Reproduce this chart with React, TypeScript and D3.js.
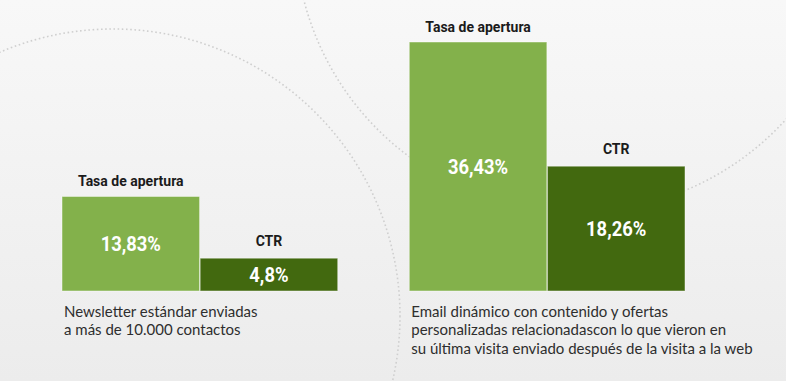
import React from "react";
import * as d3 from "d3";

const groups = ["standard", "dynamic"];
const metrics = ["Tasa de apertura", "CTR"];
const openRates = [13.83, 36.43];
const ctrRates = [4.8, 18.26];
const valueLabels = [["13,83%", "4,8%"], ["36,43%", "18,26%"]];
const descriptions = [
  ["Newsletter estándar enviadas", "a más de 10.000 contactos"],
  [
    "Email dinámico con contenido y ofertas",
    "personalizadas relacionadascon lo que vieron en",
    "su última visita enviado después de la visita a la web",
  ],
];

const W = 786;
const H = 381;
const baseY = 291;
const topY = 42;

export default function App() {
  const series = groups.map((g, i) => [openRates[i], ctrRates[i]]);
  const maxV = d3.max(series.flat()) as number;
  const y = d3.scaleLinear().domain([0, maxV]).range([baseY, topY]);
  const xG = d3.scaleBand<string>().domain(groups).range([62, 685]).paddingInner(0.206).paddingOuter(0);
  const xM = d3.scaleBand<string>().domain(metrics).range([0, xG.bandwidth()]).paddingInner(0.004);
  const colors = ["#83b14b", "#42690f"];

  return (
    <svg
      width={W}
      height={H}
      style={{ position: "absolute", left: 0, top: 0, display: "block" }}
    >
      <defs>
        <linearGradient id="bg" x1="0" y1="0" x2="0" y2="1">
          <stop offset="0" stopColor="#f8f8f8" />
          <stop offset="1" stopColor="#ececec" />
        </linearGradient>
      </defs>
      <rect x={0} y={0} width={W} height={H} fill="url(#bg)" />
      <g fill="none" stroke="#cfcfcf" strokeWidth={1.6} strokeDasharray="1.6 2.6">
        <circle cx={113} cy={316} r={287} />
        <circle cx={577} cy={-70} r={282} />
      </g>
      {groups.map((g, gi) => {
        const gx = xG(g) as number;
        return (
          <g key={g} transform={`translate(${gx},0)`}>
            {metrics.map((m, mi) => {
              const v = series[gi][mi];
              const bx = xM(m) as number;
              const bw = xM.bandwidth();
              const top = y(v);
              const mid = (top + baseY) / 2;
              return (
                <g key={m}>
                  <rect
                    x={bx}
                    y={top}
                    width={bw}
                    height={baseY - top}
                    fill={colors[mi]}
                    stroke="rgba(255,255,255,0.45)"
                    strokeWidth={1}
                  />
                  <text
                    x={bx + bw / 2}
                    y={top - (mi === 0 ? 10 : 12.5)}
                    textAnchor="middle"
                    fontFamily="Roboto, 'Noto Sans', sans-serif"
                    fontWeight={700}
                    fontSize={14}
                    fill="#1b1b1b"
                  >
                    {m}
                  </text>
                  <text
                    transform={`translate(${bx + bw / 2},${mid + 7}) scale(0.92,1)`}
                    textAnchor="middle"
                    fontFamily="Roboto, 'Noto Sans', sans-serif"
                    fontWeight={700}
                    fontSize={20}
                    fill="#ffffff"
                  >
                    {valueLabels[gi][mi]}
                  </text>
                </g>
              );
            })}
            <text
              fontFamily="Lato, 'Open Sans', sans-serif"
              fontSize={15}
              fill="#2e2e2e"
            >
              {descriptions[gi].map((line, li) => (
                <tspan key={li} x={2} y={317 + li * 18.3}>
                  {line}
                </tspan>
              ))}
            </text>
          </g>
        );
      })}
    </svg>
  );
}
